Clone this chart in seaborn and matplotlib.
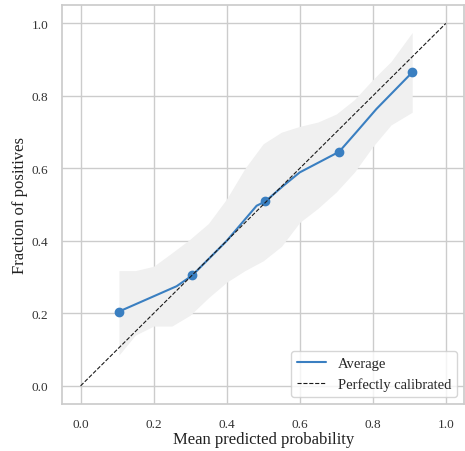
import numpy as np
import pandas as pd
import matplotlib
matplotlib.use("Agg")
import matplotlib.pyplot as plt
import seaborn as sns

# bin means (markers)
bin_x = [0.105, 0.306, 0.506, 0.708, 0.908]
bin_y = [0.205, 0.305, 0.509, 0.646, 0.865]

# averaged curve
avg_x = [0.105, 0.263, 0.306, 0.40, 0.482, 0.506, 0.555, 0.60, 0.708, 0.755, 0.81, 0.908]
avg_y = [0.205, 0.275, 0.305, 0.40, 0.497, 0.509, 0.552, 0.589, 0.646, 0.70, 0.764, 0.865]

# spread band
band_x = [0.105, 0.15, 0.2, 0.25, 0.3, 0.35, 0.4, 0.45, 0.5, 0.55, 0.6, 0.65, 0.7, 0.75, 0.8, 0.85, 0.908]
band_lo = [0.085, 0.14, 0.165, 0.165, 0.195, 0.243, 0.286, 0.318, 0.345, 0.385, 0.451, 0.49, 0.535, 0.59, 0.66, 0.72, 0.755]
band_hi = [0.318, 0.318, 0.33, 0.367, 0.405, 0.448, 0.516, 0.60, 0.668, 0.70, 0.716, 0.728, 0.75, 0.79, 0.845, 0.895, 0.975]

color = "#3a7fc1"

sns.set_theme(style="whitegrid")
plt.rcParams["font.family"] = ["Liberation Serif", "DejaVu Serif"]

fig, ax = plt.subplots(figsize=(4.65, 4.52), dpi=100)
fig.subplots_adjust(left=0.134, right=0.998, top=0.986, bottom=0.104)

ax.fill_between(band_x, band_lo, band_hi, color="#f0f0f0", lw=0)
sns.lineplot(x=avg_x, y=avg_y, ax=ax, color=color, lw=1.5, label="Average", sort=False)
ax.plot(bin_x, bin_y, "o", color=color, ms=6)
ax.plot([0, 1], [0, 1], "k--", lw=0.8, label="Perfectly calibrated")

ax.set_xlim(-0.05, 1.05)
ax.set_ylim(-0.05, 1.05)
ax.set_xticks(np.arange(0, 1.01, 0.2))
ax.set_yticks(np.arange(0, 1.01, 0.2))
ax.tick_params(labelsize=9.5, colors="#333333", pad=4)
ax.set_xlabel("Mean predicted probability", fontsize=12, color="#222222", labelpad=1)
ax.set_ylabel("Fraction of positives", fontsize=12, color="#222222", labelpad=3)
ax.legend(loc="lower right", fontsize=10.5)

plt.savefig("out.png")
